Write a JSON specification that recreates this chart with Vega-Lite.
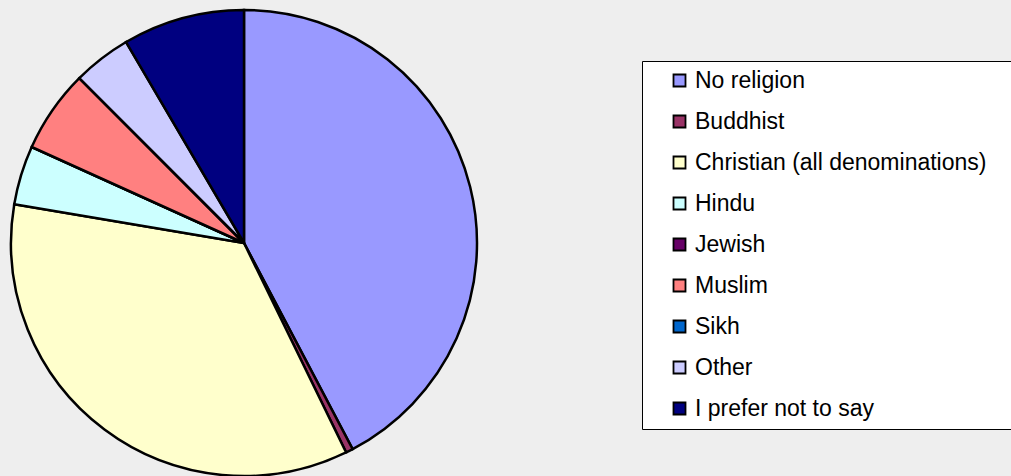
{
  "$schema": "https://vega.github.io/schema/vega-lite/v6.json",
  "width": 488,
  "height": 466,
  "autosize": {"type": "none"},
  "padding": {"left": 0, "top": 10, "right": 523, "bottom": 0},
  "background": "#EEEEEE",
  "config": {"view": {"stroke": null}, "font": "Liberation Sans"},
  "data": {
    "values": [
      {"religion": "No religion", "share": 42.3},
      {"religion": "Buddhist", "share": 0.5},
      {"religion": "Christian (all denominations)", "share": 34.9},
      {"religion": "Hindu", "share": 4.1},
      {"religion": "Jewish", "share": 0},
      {"religion": "Muslim", "share": 5.75},
      {"religion": "Sikh", "share": 0},
      {"religion": "Other", "share": 4.05},
      {"religion": "I prefer not to say", "share": 8.45}
    ]
  },
  "transform": [{"window": [{"op": "row_number", "as": "idx"}]}],
  "mark": {"type": "arc", "outerRadius": 233, "stroke": "#000000", "strokeWidth": 2.5},
  "encoding": {
    "theta": {"field": "share", "type": "quantitative", "stack": true},
    "order": {"field": "idx", "type": "quantitative", "sort": "ascending"},
    "color": {
      "field": "religion",
      "type": "nominal",
      "sort": ["No religion", "Buddhist", "Christian (all denominations)", "Hindu", "Jewish", "Muslim", "Sikh", "Other", "I prefer not to say"],
      "scale": {
        "domain": ["No religion", "Buddhist", "Christian (all denominations)", "Hindu", "Jewish", "Muslim", "Sikh", "Other", "I prefer not to say"],
        "range": ["#9999FF", "#993366", "#FFFFCC", "#CCFFFF", "#660066", "#FF8080", "#0066CC", "#CCCCFF", "#000080"]
      },
      "legend": {
        "title": null,
        "orient": "none",
        "legendX": 642,
        "legendY": 51,
        "padding": 8,
        "symbolOffset": 18,
        "symbolType": "square",
        "symbolSize": 144,
        "symbolStrokeColor": "#000000",
        "symbolStrokeWidth": 1.8,
        "labelFontSize": 23,
        "labelColor": "#000000",
        "labelOffset": 4,
        "labelLimit": 800,
        "labelExpr": "datum.label + '\u2800\u2800'",
        "rowPadding": 17,
        "strokeColor": "#000000",
        "fillColor": "#FFFFFF"
      }
    }
  }
}
